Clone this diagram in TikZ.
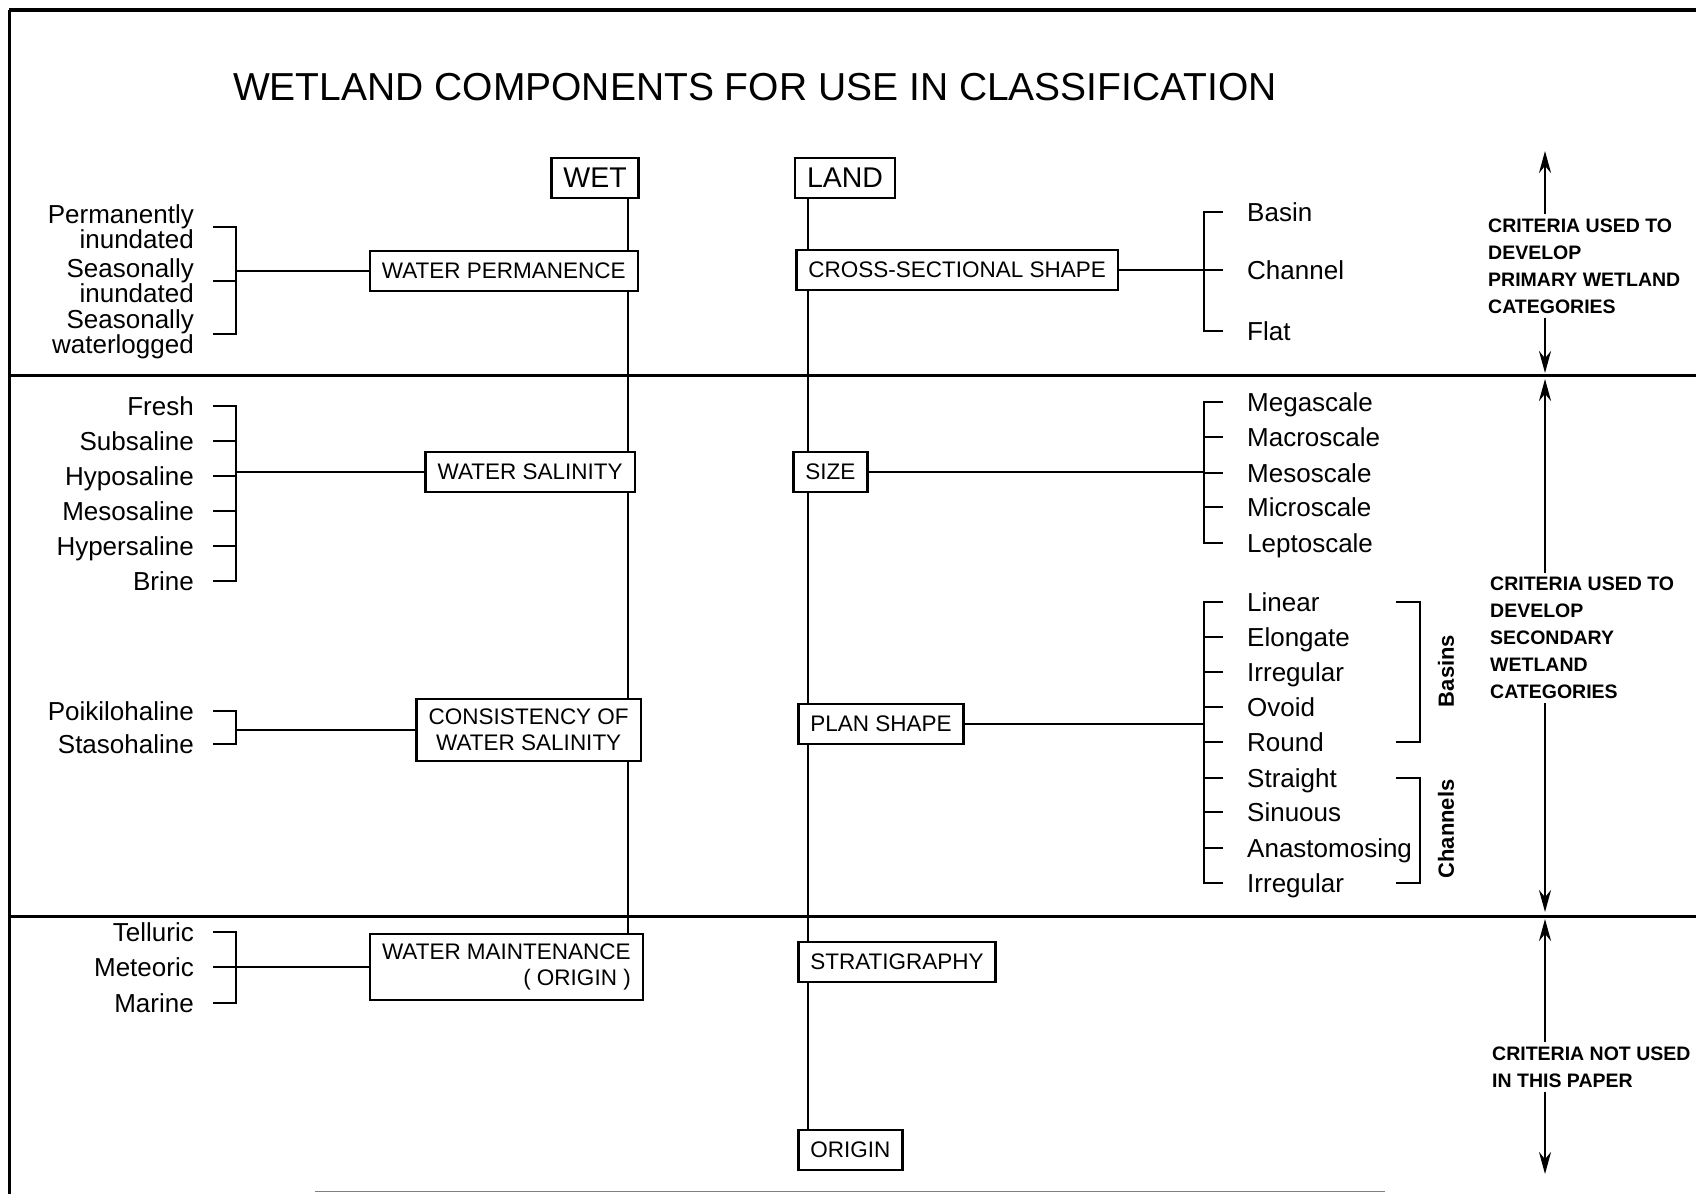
\documentclass[tikz,border=0pt]{standalone}
\usepackage{fontspec}
\setmainfont{Liberation Sans}
\usetikzlibrary{arrows.meta}

\begin{document}
\begin{tikzpicture}[x=1pt, y=-1pt, >={Stealth[length=22pt,width=12pt]},
        catbox/.style={draw, line width=2.5pt, fill=white, inner xsep=12pt, inner ysep=10pt,
            minimum height=40pt, font=\fontsize{22.5}{26}\selectfont},
        topbox/.style={catbox, font=\fontsize{28.5}{30}\selectfont},
        lefttxt/.style={anchor=east, inner xsep=19pt, inner ysep=0pt, text height=18.5pt,
            text depth=0pt, font=\fontsize{26}{23}\selectfont},
        lefttwo/.style={anchor=east, inner xsep=19pt, inner ysep=0pt, align=right,
            font=\fontsize{26}{23}\selectfont},
        righttxt/.style={anchor=west, inner xsep=24pt, inner ysep=0pt, text height=18.5pt,
            text depth=0pt, font=\fontsize{26}{23}\selectfont},
        crittxt/.style={anchor=west, align=left, inner sep=4pt,
            font=\bfseries\fontsize{19.5}{27}\selectfont},
        sidetxt/.style={rotate=90, font=\bfseries\fontsize{22}{24}\selectfont},
        conn/.style={line width=2.5pt},
        sepline/.style={line width=3pt}]
            \useasboundingbox (0,0) rectangle (1696,1194);
            \draw[line width=3.5pt] (9,10) -- (1696,10);
            \draw[line width=3pt] (9,10) -- (9,1194);
            \draw[gray, line width=1pt] (315,1191) -- (1385,1191);
            \draw[sepline] (9,375) -- (1696,375);
            \draw[sepline] (9,916) -- (1696,916);

            \node[font=\fontsize{39}{42}\selectfont] (title) at (755,87) {WETLAND COMPONENTS FOR USE IN CLASSIFICATION};

            \coordinate (wx) at (628,0);
            \coordinate (lx) at (808,0);
            \coordinate (lb) at (236,0);
            \coordinate (rb) at (1204,0);
            \coordinate (bt) at (1396,0);
            \coordinate (bb) at (1420,0);
            \coordinate (ax) at (1545,0);

            \node[topbox] (wet) at (595,178) {WET};
            \node[topbox] (land) at (845,178) {LAND};

            \node[catbox, anchor=east] (perm) at (639,271) {WATER PERMANENCE};
            \node[catbox, anchor=east] (sal) at (636,472) {WATER SALINITY};
            \node[catbox, anchor=east, align=center] (cons) at (642,730) {CONSISTENCY OF\\WATER SALINITY};
            \node[catbox, anchor=east, align=right] (maint) at (644,967) {WATER MAINTENANCE\\( ORIGIN )};

            \node[catbox, anchor=west] (cross) at (795,270) {CROSS-SECTIONAL SHAPE};
            \node[catbox, anchor=west] (size) at (792,472) {SIZE};
            \node[catbox, anchor=west] (plan) at (797,724) {PLAN SHAPE};
            \node[catbox, anchor=west] (strat) at (797,962) {STRATIGRAPHY};
            \node[catbox, anchor=west] (orig) at (797,1150) {ORIGIN};

            \draw[conn] (wet.south -| wx) -- (perm.north -| wx);
            \draw[conn] (perm.south -| wx) -- (sal.north -| wx);
            \draw[conn] (sal.south -| wx) -- (cons.north -| wx);
            \draw[conn] (cons.south -| wx) -- (maint.north -| wx);
            \draw[conn] (land.south -| lx) -- (cross.north -| lx);
            \draw[conn] (cross.south -| lx) -- (size.north -| lx);
            \draw[conn] (size.south -| lx) -- (plan.north -| lx);
            \draw[conn] (plan.south -| lx) -- (strat.north -| lx);
            \draw[conn] (strat.south -| lx) -- (orig.north -| lx);

            \node[lefttwo] (perma) at (213,227) {Permanently\\inundated};
            \node[lefttwo] (seasi) at (213,281) {Seasonally\\inundated};
            \node[lefttwo] (seasw) at (213,334) {Seasonally\\waterlogged};
            \draw[conn] (perma.east) -- (perma.east -| lb) -- (seasw.east -| lb) -- (seasw.east);
            \draw[conn] (seasi.east) -- (seasi.east -| lb);
            \draw[conn] (perm.west) -- (perm.west -| lb);

            \node[lefttxt] (fresh) at (213,406) {Fresh};
            \node[lefttxt] (subsal) at (213,441) {Subsaline};
            \node[lefttxt] (hyposal) at (213,476) {Hyposaline};
            \node[lefttxt] (mesosal) at (213,511) {Mesosaline};
            \node[lefttxt] (hypersal) at (213,546) {Hypersaline};
            \node[lefttxt] (brine) at (213,581) {Brine};
            \draw[conn] (fresh.east) -- (fresh.east -| lb) -- (brine.east -| lb) -- (brine.east);
            \draw[conn] (subsal.east) -- (subsal.east -| lb);
            \draw[conn] (hyposal.east) -- (hyposal.east -| lb);
            \draw[conn] (mesosal.east) -- (mesosal.east -| lb);
            \draw[conn] (hypersal.east) -- (hypersal.east -| lb);
            \draw[conn] (sal.west) -- (sal.west -| lb);

            \node[lefttxt] (poiki) at (213,711) {Poikilohaline};
            \node[lefttxt] (staso) at (213,744) {Stasohaline};
            \draw[conn] (poiki.east) -- (poiki.east -| lb) -- (staso.east -| lb) -- (staso.east);
            \draw[conn] (cons.west) -- (cons.west -| lb);

            \node[lefttxt] (tell) at (213,932) {Telluric};
            \node[lefttxt] (meteo) at (213,967) {Meteoric};
            \node[lefttxt] (marine) at (213,1003) {Marine};
            \draw[conn] (tell.east) -- (tell.east -| lb) -- (marine.east -| lb) -- (marine.east);
            \draw[conn] (meteo.east) -- (meteo.east -| lb);
            \draw[conn] (maint.west) -- (maint.west -| lb);

            \node[righttxt] (basin) at (1223,212) {Basin};
            \node[righttxt] (channel) at (1223,270) {Channel};
            \node[righttxt] (flat) at (1223,331) {Flat};
            \draw[conn] (basin.west) -- (basin.west -| rb) -- (flat.west -| rb) -- (flat.west);
            \draw[conn] (channel.west) -- (channel.west -| rb);
            \draw[conn] (cross.east) -- (cross.east -| rb);

            \node[righttxt] (mega) at (1223,402) {Megascale};
            \node[righttxt] (macro) at (1223,437) {Macroscale};
            \node[righttxt] (meso) at (1223,473) {Mesoscale};
            \node[righttxt] (micro) at (1223,507) {Microscale};
            \node[righttxt] (lepto) at (1223,543) {Leptoscale};
            \draw[conn] (mega.west) -- (mega.west -| rb) -- (lepto.west -| rb) -- (lepto.west);
            \draw[conn] (macro.west) -- (macro.west -| rb);
            \draw[conn] (meso.west) -- (meso.west -| rb);
            \draw[conn] (micro.west) -- (micro.west -| rb);
            \draw[conn] (size.east) -- (size.east -| rb);

            \node[righttxt] (linear) at (1223,602) {Linear};
            \node[righttxt] (elong) at (1223,637) {Elongate};
            \node[righttxt] (irregb) at (1223,672) {Irregular};
            \node[righttxt] (ovoid) at (1223,707) {Ovoid};
            \node[righttxt] (round) at (1223,742) {Round};
            \node[righttxt] (straight) at (1223,778) {Straight};
            \node[righttxt] (sinuous) at (1223,812) {Sinuous};
            \node[righttxt] (anast) at (1223,848) {Anastomosing};
            \node[righttxt] (irregc) at (1223,883) {Irregular};
            \draw[conn] (linear.west) -- (linear.west -| rb) -- (irregc.west -| rb) -- (irregc.west);
            \draw[conn] (elong.west) -- (elong.west -| rb);
            \draw[conn] (irregb.west) -- (irregb.west -| rb);
            \draw[conn] (ovoid.west) -- (ovoid.west -| rb);
            \draw[conn] (round.west) -- (round.west -| rb);
            \draw[conn] (straight.west) -- (straight.west -| rb);
            \draw[conn] (sinuous.west) -- (sinuous.west -| rb);
            \draw[conn] (anast.west) -- (anast.west -| rb);
            \draw[conn] (plan.east) -- (plan.east -| rb);

            \draw[conn] (linear -| bt) -- (linear -| bb) -- (round -| bb) -- (round -| bt);
            \draw[conn] (straight -| bt) -- (straight -| bb) -- (irregc -| bb) -- (irregc -| bt);
            \node[sidetxt] (basins) at (1446,671) {Basins};
            \node[sidetxt] (channels) at (1446,829) {Channels};

            \node[crittxt] (crita) at (1484,266) {CRITERIA USED TO\\DEVELOP\\PRIMARY WETLAND\\CATEGORIES};
            \node[crittxt] (critb) at (1486,638) {CRITERIA USED TO\\DEVELOP\\SECONDARY\\WETLAND\\CATEGORIES};
            \node[crittxt] (critc) at (1488,1067) {CRITERIA NOT USED\\IN THIS PAPER};
            \coordinate (tipa) at (1545,151);
            \coordinate (tipb) at (1545,373);
            \coordinate (tipc) at (1545,379);
            \coordinate (tipd) at (1545,912);
            \coordinate (tipe) at (1545,919);
            \coordinate (tipf) at (1545,1174);
            \draw[conn, ->] (crita.north -| ax) -- (tipa);
            \draw[conn, ->] (crita.south -| ax) -- (tipb);
            \draw[conn, ->] (critb.north -| ax) -- (tipc);
            \draw[conn, ->] (critb.south -| ax) -- (tipd);
            \draw[conn, ->] (critc.north -| ax) -- (tipe);
            \draw[conn, ->] (critc.south -| ax) -- (tipf);
\end{tikzpicture}
\end{document}
